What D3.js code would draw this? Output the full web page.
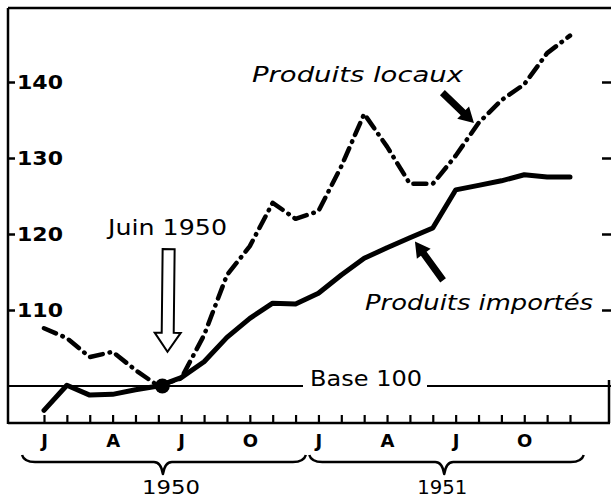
<!DOCTYPE html>
<html><head><meta charset="utf-8">
<script src="https://cdn.jsdelivr.net/npm/d3@7"></script>
<style>body{margin:0;background:#fff} svg{display:block}</style>
</head><body>
<svg id="c" width="611" height="500"></svg>
<script>
// ---- data ----
const months = ["1950-01","1950-02","1950-03","1950-04","1950-05","1950-06","1950-07","1950-08","1950-09","1950-10","1950-11","1950-12",
                "1951-01","1951-02","1951-03","1951-04","1951-05","1951-06","1951-07","1951-08","1951-09","1951-10","1951-11","1951-12"];
const importes = [96.8,100.1,98.8,98.9,99.5,100.0,101.1,103.2,106.4,108.9,110.9,110.8,
                  112.2,114.6,116.8,118.2,119.5,120.8,125.8,126.4,127.0,127.8,127.5,127.5];
const locaux   = [107.6,106.3,103.8,104.5,102.1,100.0,101.0,106.7,114.6,118.4,124.1,122.0,
                  123.0,128.9,135.8,131.5,126.6,126.6,130.3,134.6,137.6,139.7,143.8,146.1];
const xTickMonths = ["1950-01","1950-04","1950-07","1950-10","1951-01","1951-04","1951-07","1951-10"];
const xTickLabels = ["J","A","J","O","J","A","J","O"];
const yTicks = [110,120,130,140];
const years = ["1950","1951"];
const baseValue = 100;
const baseMonth = "1950-06";

// ---- scales ----
const svg = d3.select("#c");
const xi = d3.scaleLinear().domain([0, months.length - 1]).range([44, 570]);
const x = m => xi(months.indexOf(m));
const y = d3.scaleLinear().domain([100, 140]).range([386, 82]);
const FONT = "DejaVu Sans";
const L = 8, R = 609, T = 8, B = 423;

// ---- frame ----
const frame = svg.append("g").attr("stroke","#000").attr("stroke-width",2.5).attr("fill","none");
frame.append("line").attr("x1",L).attr("x2",611).attr("y1",T).attr("y2",T);
frame.append("line").attr("x1",L).attr("x2",L).attr("y1",T).attr("y2",B+1);
frame.append("line").attr("x1",L).attr("x2",R+1).attr("y1",B).attr("y2",B);
frame.append("line").attr("x1",R).attr("x2",R).attr("y1",y(100)-6).attr("y2",B);

// left ticks + labels
const yAxisL = svg.append("g").attr("transform",`translate(${L},0)`)
  .call(d3.axisRight(y).tickValues(yTicks).tickSize(7).tickPadding(2).tickFormat(d3.format("d")));
yAxisL.select(".domain").remove();
yAxisL.selectAll("line").attr("stroke","#000").attr("stroke-width",2.5);
yAxisL.selectAll("text").attr("font-family",FONT).attr("font-size",20).attr("font-weight","bold")
  .attr("fill","#000").attr("textLength",46).attr("lengthAdjust","spacingAndGlyphs");

// right ticks
const yAxisR = svg.append("g").attr("transform",`translate(611,0)`)
  .call(d3.axisLeft(y).tickValues(yTicks).tickSize(9).tickFormat(""));
yAxisR.select(".domain").remove();
yAxisR.selectAll("line").attr("stroke","#000").attr("stroke-width",2.5);

// bottom month ticks
const xTicks = svg.append("g").attr("transform",`translate(0,${B})`)
  .call(d3.axisTop(xi).tickValues(d3.range(months.length)).tickSize(8).tickFormat(""));
xTicks.select(".domain").remove();
xTicks.selectAll("line").attr("stroke","#000").attr("stroke-width",2.2);

// bottom labels
const xLab = svg.append("g").attr("transform",`translate(0,${B})`)
  .call(d3.axisBottom(xi).tickValues(xTickMonths.map(m => months.indexOf(m)))
        .tickSize(0).tickPadding(11).tickFormat((d,i) => xTickLabels[i]));
xLab.select(".domain").remove();
xLab.selectAll("text").attr("font-family",FONT).attr("font-size",18).attr("font-weight","bold").attr("fill","#000");

// braces
function brace(x1, x2, xm, yEnd, yMid, yCusp){
  return `M${x1},${yEnd} Q${x1+2},${yMid} ${x1+13},${yMid} L${xm-9},${yMid} Q${xm-2},${yMid} ${xm},${yCusp}`+
         ` Q${xm+2},${yMid} ${xm+9},${yMid} L${x2-13},${yMid} Q${x2-2},${yMid} ${x2},${yEnd}`;
}
const braceSpans = [[-0.96, 11.45, 5.2], [11.6, 23.6, 17.5]];
braceSpans.forEach((s,i) => {
  svg.append("path").attr("d", brace(xi(s[0]), xi(s[1]), xi(s[2]), 455, 462, 474))
    .attr("fill","none").attr("stroke","#000").attr("stroke-width",2.5).attr("stroke-linejoin","round");
  svg.append("text").attr("x", xi(s[2]) + (i===0?8:-2)).attr("y",494).attr("text-anchor","middle")
    .attr("font-family",FONT).attr("font-size",20).attr("fill","#000")
    .attr("textLength",i===0?58:50).attr("lengthAdjust","spacingAndGlyphs").text(years[i]);
});

// base 100 line
svg.append("line").attr("x1",L).attr("x2",303).attr("y1",y(baseValue)).attr("y2",y(baseValue))
  .attr("stroke","#000").attr("stroke-width",1.8);
svg.append("line").attr("x1",427).attr("x2",611).attr("y1",y(baseValue)).attr("y2",y(baseValue))
  .attr("stroke","#000").attr("stroke-width",1.8);
svg.append("text").attr("x",310).attr("y",y(baseValue)).attr("font-family",FONT).attr("font-size",21)
  .attr("fill","#000").attr("textLength",112).attr("lengthAdjust","spacingAndGlyphs").text("Base 100");

// ---- series ----
const line = d3.line().x((d,i) => xi(i)).y(d => y(d));
svg.append("path").datum(locaux).attr("d", line).attr("fill","none").attr("stroke","#000")
  .attr("stroke-width",4.5).attr("stroke-linecap","round").attr("stroke-linejoin","round")
  .attr("stroke-dasharray","13 7 0.5 7");
svg.append("path").datum(importes).attr("d", line).attr("fill","none").attr("stroke","#000")
  .attr("stroke-width",5).attr("stroke-linecap","round").attr("stroke-linejoin","round");

// base point
svg.append("circle").attr("cx", x(baseMonth)+4).attr("cy", y(baseValue)).attr("r",7.5).attr("fill","#000");

// ---- annotations ----
function arrowPoly(tx, ty, hx, hy, shaftW, headW, headL){
  const dx = hx - tx, dy = hy - ty, len = Math.hypot(dx,dy);
  const ux = dx/len, uy = dy/len, px = -uy, py = ux;
  const bx = hx - ux*headL, by = hy - uy*headL;
  const pts = [
    [tx + px*shaftW/2, ty + py*shaftW/2],
    [bx + px*shaftW/2, by + py*shaftW/2],
    [bx + px*headW/2,  by + py*headW/2],
    [hx, hy],
    [bx - px*headW/2,  by - py*headW/2],
    [bx - px*shaftW/2, by - py*shaftW/2],
    [tx - px*shaftW/2, ty - py*shaftW/2]];
  return "M" + pts.map(p => p.join(",")).join("L") + "Z";
}
// arrow to "Produits locaux"
svg.append("path").attr("d", arrowPoly(xi(17.42), y(138.6), xi(18.8), y(134.6), 7, 17, 15)).attr("fill","#000");
// arrow to "Produits importés"
svg.append("path").attr("d", arrowPoly(xi(17.45), y(113.9), xi(16.22), y(119.0), 7, 17, 15)).attr("fill","#000");
// hollow arrow "Juin 1950"
svg.append("path").attr("d", arrowPoly(xi(5.45), y(118.0), xi(5.4), y(104.5), 12, 26, 19))
  .attr("fill","#fff").attr("stroke","#000").attr("stroke-width",2).attr("stroke-linejoin","miter");

svg.append("text").attr("x",108).attr("y",235).attr("font-family",FONT).attr("font-size",22)
  .attr("fill","#000").attr("textLength",119).attr("lengthAdjust","spacingAndGlyphs").text("Juin 1950");
svg.append("text").attr("x",252).attr("y",82).attr("font-family",FONT).attr("font-size",21)
  .attr("font-style","italic").attr("fill","#000").attr("textLength",211).attr("lengthAdjust","spacingAndGlyphs")
  .text("Produits locaux");
svg.append("text").attr("x",365).attr("y",310).attr("font-family",FONT).attr("font-size",21)
  .attr("font-style","italic").attr("fill","#000").attr("textLength",228).attr("lengthAdjust","spacingAndGlyphs")
  .text("Produits importés");
</script>
</body></html>
